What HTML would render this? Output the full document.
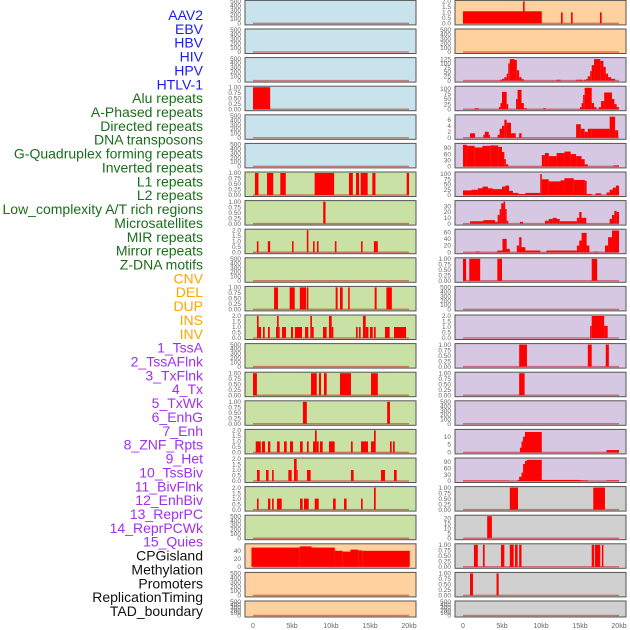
<!DOCTYPE html>
<html><head><meta charset="utf-8"><style>
html,body{margin:0;padding:0;background:#fff;width:630px;height:630px;overflow:hidden}
svg{display:block}
</style></head><body>
<svg id="chart" width="630" height="630" xmlns="http://www.w3.org/2000/svg" font-family="Liberation Sans, sans-serif"></svg>
<script>
// ----- category labels -----
const labels = ["AAV2","EBV","HBV","HIV","HPV","HTLV-1","Alu repeats","A-Phased repeats","Directed repeats","DNA transposons","G-Quadruplex forming repeats","Inverted repeats","L1 repeats","L2 repeats","Low_complexity A/T rich regions","Microsatellites","MIR repeats","Mirror repeats","Z-DNA motifs","CNV","DEL","DUP","INS","INV","1_TssA","2_TssAFlnk","3_TxFlnk","4_Tx","5_TxWk","6_EnhG","7_Enh","8_ZNF_Rpts","9_Het","10_TssBiv","11_BivFlnk","12_EnhBiv","13_ReprPC","14_ReprPCWk","15_Quies","CPGisland","Methylation","Promoters","ReplicationTiming","TAD_boundary"];
const labelGroups = ["v","v","v","v","v","v","r","r","r","r","r","r","r","r","r","r","r","r","r","s","s","s","s","s","c","c","c","c","c","c","c","c","c","c","c","c","c","c","c","o","o","o","o","o"];
// tick sets
const ticksEmpty = [0,100,200,300,400,500];
const ticksBin = [0,0.25,0.5,0.75,1];
const ticksTwo = [0,0.5,1,1.5,2];
const xTicks = [0,5,10,15,20];
const xTickLabels = ["0","5kb","10kb","15kb","20kb"];
// ----- series: [startKb, endKb, value] -----
const L_alu = [[0,2.2,1]];
const L_r6 = [[0.25,0.7,1],[1.8,2.6,1],[3.5,4.2,1],[7.9,10.4,1],[12.3,12.8,1],[13.2,13.6,1],[13.8,14.7,1],[15.3,15.7,1],[19.7,20,1]];
const L_r7 = [[9.0,9.3,1]];
const L_r8 = [[0.5,0.7,1],[1.9,2.2,1],[5.0,5.2,1],[6.9,7.1,2],[7.7,7.9,1],[8.2,8.4,1],[10.5,10.7,1],[13.85,14.05,1],[15.5,16.0,1]];
const L_r10 = [[2.7,3.2,1],[4.7,5.35,1],[6.0,6.8,1],[6.9,7.1,1],[10.6,10.85,1],[11.15,11.5,1],[12.2,12.4,1],[15.6,15.85,1],[17.1,17.8,1]];
const L_r11 = [[0.51,0.72,2],[0.72,1.03,1],[1.28,1.5,1],[1.92,2.15,1],[2.95,3.08,1],[3.08,3.29,2],[3.29,3.42,1],[3.72,4.23,1],[4.87,5.13,1],[5.38,6.28,1],[6.67,7.09,1],[7.35,7.56,2],[7.56,7.78,1],[8.97,9.44,1],[9.74,10.09,2],[10.09,10.3,1],[13.2,13.42,1],[13.59,13.8,1],[14.1,14.45,2],[14.45,14.8,1],[15.0,15.35,1],[15.51,15.73,1],[16.92,17.52,1],[18.08,19.62,1]];
const L_r13 = [[0,0.5,1],[7.44,8.17,1],[8.46,8.72,1],[9.1,9.45,1],[11.15,12.56,1],[15.13,16.0,1]];
const L_r14 = [[6.4,6.9,1],[17.2,17.56,1]];
const L_r15 = [[0.35,1.0,1],[1.15,1.54,1],[1.92,2.22,1],[3.08,3.42,1],[3.98,4.32,1],[4.74,5.13,1],[6.03,6.37,1],[6.92,7.14,1],[7.7,7.95,1],[7.95,8.17,2],[8.17,8.42,1],[8.59,8.93,1],[9.74,10.47,1],[12.56,12.78,1],[13.85,14.74,1],[15.13,15.51,1],[15.51,15.73,2],[17.56,17.78,1],[17.95,18.17,1]];
const L_r16 = [[0.51,0.85,1],[1.67,2.0,1],[2.44,2.65,1],[4.53,4.96,1],[5.26,5.6,2],[5.6,5.73,1],[6.92,7.39,1],[12.56,12.9,1],[16.41,16.92,1],[18.08,18.42,1]];
const L_r17 = [[0.51,0.72,1],[1.92,2.22,1],[2.44,2.65,1],[3.08,3.68,1],[6.03,6.37,1],[6.54,7.14,1],[7.91,8.42,1],[10.26,10.6,1],[11.67,12.0,1],[13.85,14.06,1],[15.51,15.73,2]];
const L_cpg = [[-0.2,6,48],[6,7.5,51],[7.5,10.5,48],[10.5,11.5,40],[11.5,12.5,38],[12.5,13.5,43],[13.5,14,41],[14,20.1,40]];
const R_r0 = [[0,10.1,1.1],[7.7,7.9,2],[12.56,12.78,1],[13.85,14.06,1],[17.56,17.78,1]];
const R_r2 = [[4.7,5.0,5],[5.0,5.3,10],[5.3,5.6,20],[5.6,5.8,40],[5.8,6.0,100],[6.0,6.6,125],[6.6,6.9,120],[6.9,7.2,60],[7.2,7.5,20],[7.5,7.8,8],[12.0,12.5,5],[14.5,15.3,5],[15.5,15.8,5],[15.8,16.0,10],[16.0,16.3,25],[16.3,16.5,55],[16.5,16.8,90],[16.8,17.6,125],[17.6,18.0,115],[18.0,18.3,80],[18.3,18.6,40],[18.6,19.0,20],[19.0,19.5,10]];
const R_r3 = [[1.5,2.0,5],[4.6,4.8,10],[4.8,5.0,30],[5.0,5.6,85],[5.6,5.8,25],[6.8,7.0,50],[7.0,7.5,95],[7.5,7.8,30],[7.8,8.2,5],[10.3,10.6,5],[15.0,15.2,10],[15.2,15.4,30],[15.4,15.6,70],[15.6,16.5,105],[16.5,16.8,30],[16.8,17.1,10],[17.4,17.7,10],[17.7,18.1,40],[18.1,19.1,82],[19.1,19.4,50],[19.4,19.7,25],[19.7,20,10]];
const R_r4 = [[0.9,1.54,1.5],[2.6,2.8,1],[2.8,3.3,2],[3.3,3.46,1],[4.44,4.7,1],[4.7,5.0,3],[5.0,5.3,4],[5.3,5.6,6],[5.6,6.15,5],[6.15,6.76,1.5],[7.2,7.5,1.5],[14.5,15.1,4.5],[15.1,15.6,3],[15.6,16.0,2],[16.0,16.5,3],[16.5,18.8,3],[18.8,19.5,7],[19.5,19.9,2.5]];
const R_r5 = [[0,0.5,105],[0.5,1.5,100],[1.5,2.5,92],[2.5,3.5,100],[3.5,4.5,102],[4.5,5.0,95],[5.0,5.3,70],[5.3,5.5,35],[5.5,5.8,10],[10.1,10.5,55],[10.5,11,65],[11,12,50],[12,13,65],[13,13.8,72],[13.8,14.5,60],[14.5,15.2,50],[15.2,15.6,35],[15.6,16,10],[19.3,20,5]];
const R_r6 = [[0,1.1,22],[1.1,1.9,25],[1.9,2.5,32],[2.5,3.2,40],[3.2,3.8,32],[3.8,5.0,28],[5.0,5.4,40],[5.4,5.9,45],[5.9,6.4,20],[6.4,7.1,10],[7.1,8.0,5],[8.0,9.9,10],[9.9,10.1,100],[10.1,11,75],[11,12.5,65],[12.5,13,70],[13,14.2,80],[14.2,15.6,72],[15.6,15.85,68],[15.85,16.5,5],[17,17.7,8],[18.4,18.8,12],[18.8,19.2,25],[19.2,19.6,35],[19.6,20,45]];
const R_r7 = [[0.9,2.6,4],[2.6,4.1,6],[4.1,4.44,3],[4.44,4.7,15],[4.7,4.9,25],[4.9,5.2,35],[5.2,5.4,38],[5.4,5.6,25],[5.6,5.8,5],[7.3,7.7,3],[10.5,11,5],[11,11.5,8],[11.5,12,10],[12,12.4,8],[12.4,14.6,4],[14.6,14.9,10],[14.9,15.2,20],[15.2,15.8,10],[18.8,19.1,8],[19.1,19.4,15],[19.4,19.7,22],[19.7,20,20]];
const R_r8 = [[1.6,2.2,2],[4.4,5.06,5],[5.06,5.6,40],[5.6,6.0,10],[6.9,7.2,20],[7.2,7.5,45],[7.5,8.0,15],[8.0,9.9,5],[10.7,14.6,5],[14.6,14.9,20],[14.9,15.2,35],[15.2,15.85,58],[15.85,16.2,20],[16.8,17.3,2],[18.2,18.6,20],[18.6,19.1,45],[19.1,20,65]];
const R_r9 = [[0,0.4,1],[0.8,2.2,1],[4.4,5.0,1],[16.5,17.2,1]];
const R_r11 = [[16.3,16.5,1.1],[16.5,18.1,2],[18.1,18.55,1.1]];
const R_r12 = [[7.2,8.2,1],[16.0,16.5,1],[18.3,18.7,1]];
const R_r13 = [[7.2,7.9,1]];
const R_r15 = [[7.3,7.5,3],[7.5,7.7,7],[7.7,7.95,10],[7.95,10.1,13],[18.4,20,1.5]];
const R_r16 = [[0,5.9,2],[7.0,7.2,5],[7.2,7.5,20],[7.5,7.7,40],[7.7,7.95,80],[7.95,8.2,95],[8.2,10.1,100],[10.1,15.1,5],[15.1,16.0,3],[18.4,20,3]];
const R_r17 = [[6.0,7.05,1],[16.7,18.2,1]];
const R_r18 = [[3.1,3.7,22]];
const R_r19 = [[1.4,1.9,1],[2.56,2.78,1],[4.87,5.3,1],[6.0,6.5,1],[6.67,7.0,1],[7.2,7.5,1],[16.5,16.8,1],[16.9,17.6,1],[17.8,18.0,1]];
const R_r20 = [[0.9,1.28,1],[4.3,4.57,1]];

const BG = {b:"#c9e3ec",g:"#c9e1a5",o:"#ffd19f",p:"#d6c7e3",s:"#d0d0d0"};
const panels = [
 // col, row, bg, ticks, ymax, data, name
 [0,0,"b",ticksEmpty,500,[],"aav2"],[0,1,"b",ticksEmpty,500,[],"ebv"],[0,2,"b",ticksEmpty,500,[],"hbv"],
 [0,3,"b",ticksBin,1,L_alu,"alu"],[0,4,"b",ticksEmpty,500,[],"hpv"],[0,5,"b",ticksEmpty,500,[],"htlv"],
 [0,6,"g",ticksBin,1,L_r6,"l1"],[0,7,"g",ticksBin,1,L_r7,"g-row7"],[0,8,"g",ticksTwo,2,L_r8,"g-row8"],
 [0,9,"g",ticksEmpty,500,[],"g-row9"],[0,10,"g",ticksBin,1,L_r10,"g-row10"],[0,11,"g",ticksTwo,2,L_r11,"g-row11"],
 [0,12,"g",ticksEmpty,500,[],"g-row12"],[0,13,"g",ticksBin,1,L_r13,"g-row13"],[0,14,"g",ticksBin,1,L_r14,"g-row14"],
 [0,15,"g",ticksTwo,2,L_r15,"g-row15"],[0,16,"g",ticksTwo,2,L_r16,"g-row16"],[0,17,"g",ticksTwo,2,L_r17,"g-row17"],
 [0,18,"g",ticksEmpty,500,[],"g-row18"],[0,19,"o",[0,20,40],55,L_cpg,"cpgisland"],[0,20,"o",ticksEmpty,500,[],"o-row20"],
 [0,21,"o",ticksEmpty,500,[],"o-row21"],
 [1,0,"o",ticksTwo,2,R_r0,"r-row0"],[1,1,"o",ticksEmpty,500,[],"r-row1"],[1,2,"p",[0,25,50,75,100,125],128,R_r2,"r-row2"],
 [1,3,"p",[0,25,50,75,100],108,R_r3,"r-row3"],[1,4,"p",[0,2,4,6],7.3,R_r4,"r-row4"],[1,5,"p",[0,30,60,90],107,R_r5,"r-row5"],
 [1,6,"p",[0,25,50,75,100],105,R_r6,"r-row6"],[1,7,"p",[0,10,20,30],38,R_r7,"r-row7"],[1,8,"p",[0,20,40,60],66,R_r8,"r-row8"],
 [1,9,"p",ticksBin,1,R_r9,"r-row9"],[1,10,"p",ticksEmpty,500,[],"r-row10"],[1,11,"p",ticksTwo,2,R_r11,"r-row11"],
 [1,12,"p",ticksBin,1,R_r12,"r-row12"],[1,13,"p",ticksBin,1,R_r13,"r-row13"],[1,14,"p",ticksEmpty,500,[],"r-row14"],
 [1,15,"p",[0,5,10],14,R_r15,"r-row15"],[1,16,"p",[0,30,60,90],104,R_r16,"r-row16"],[1,17,"s",ticksBin,1,R_r17,"r-row17"],
 [1,18,"s",[0,5,10,15,20],22,R_r18,"r-row18"],[1,19,"s",ticksBin,1,R_r19,"r-row19"],[1,20,"s",ticksBin,1,R_r20,"r-row20"],
 [1,21,"s",ticksEmpty,500,[],"r-row21"]
];

const NS="http://www.w3.org/2000/svg";
const svg=document.getElementById('chart');
function mk(tag,attrs,parent){const e=document.createElementNS(NS,tag);for(const k in attrs)e.setAttribute(k,attrs[k]);(parent||svg).appendChild(e);return e;}
const COLX=[[245,416],[455,626]];
function xScale(col,kb){return COLX[col][0]+8+kb*7.8;}
function fmt(t,ticks){if(ticks===ticksBin)return t.toFixed(2);if(ticks===ticksTwo)return t.toFixed(1);return String(t);}

// labels
const LC={v:"#1a1aff",r:"#1a6e1a",s:"#ffa500",c:"#a030f0",o:"#111"};
labels.forEach((t,i)=>{
  const y=15+i*(596/43)*(43/39)*(39/43);
});
const pitchL=(611-15)/43;
labels.forEach((t,i)=>{
  const el=mk('text',{x:203,y:15+i*pitchL+5,'text-anchor':'end','font-size':14,fill:LC[labelGroups[i]]});
  el.textContent=t;
  
  
});

panels.forEach(p=>{
  const [col,row,bg,ticks,ymax,data,name]=p;
  const top=0.4+28.6*row, h=(row===21?16:24.5);
  const x0=COLX[col][0], x1=COLX[col][1];
  const g=mk('g',{});
  
  
  mk('rect',{x:x0,y:top,width:x1-x0,height:h,fill:BG[bg],stroke:'#555','stroke-width':1},g);
  const yb=top+h-1.5, yt=top+1;
  const yScale=v=>yb-(v/ymax)*(yb-yt);
  ticks.forEach(t=>{
    const tl=mk('text',{x:x0-4,y:yScale(t)+2.2,'text-anchor':'end','font-size':6.5,fill:'#666'},g);
    tl.textContent=fmt(t,ticks);
    
    
  });
  mk('line',{x1:xScale(col,0),x2:xScale(col,20),y1:yb,y2:yb,stroke:'rgba(190,0,0,0.45)','stroke-width':1.5},g);
  data.forEach(d=>{
    const xa=xScale(col,d[0]), xb=xScale(col,d[1]);
    const r=mk('rect',{x:xa,y:yScale(d[2]),width:Math.max(1,xb-xa),height:yb-yScale(d[2]),fill:'#ff0000'},g);
    
    
  });
});

[0,1].forEach(col=>{
  xTicks.forEach((k,i)=>{
    const t=mk('text',{x:xScale(col,k),y:628,'text-anchor':'middle','font-size':7,fill:'#666'});
    t.textContent=xTickLabels[i];
    
    
  });
});
</script>
</body></html>
